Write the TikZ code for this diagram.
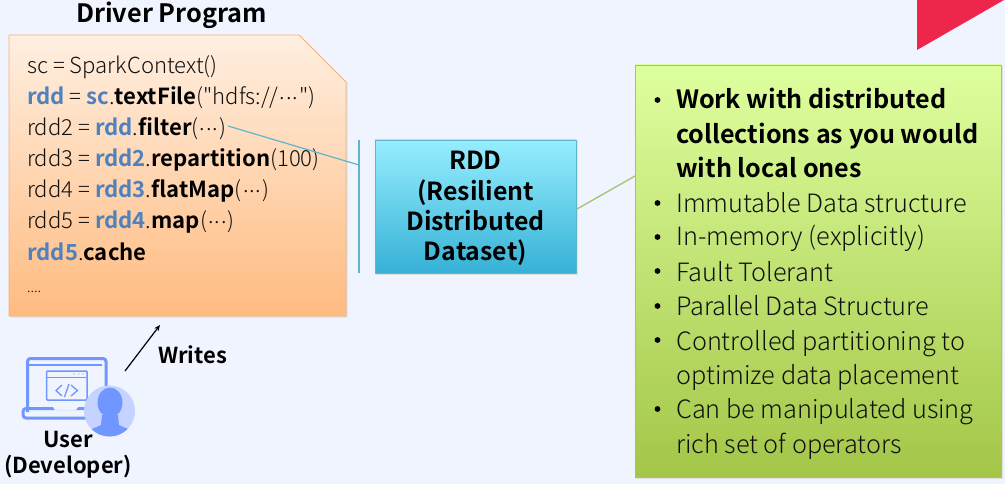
\documentclass[tikz,border=0pt]{standalone}
\usepackage{fontspec}
\setmainfont{Noto Sans CJK KR}[UprightFont=* Light,BoldFont=* Bold]
\newfontfamily\plainquote{Noto Sans CJK KR Light}
\usetikzlibrary{arrows.meta}
\definecolor{pagebg}{HTML}{F0F4FF}
\definecolor{rddblue}{HTML}{4F81BD}
\definecolor{iconblue}{HTML}{7096FF}
\definecolor{iconlight}{HTML}{C4D3FF}
\definecolor{calloutblue}{HTML}{5FB4CE}
\definecolor{calloutgreen}{HTML}{A4C46C}
\definecolor{inktext}{HTML}{111111}
\newcommand{\rb}[1]{\textbf{\textcolor{rddblue}{#1}}}
\newcommand{\kb}[1]{\textbf{\textcolor{black}{#1}}}
\newcommand{\dts}{\hspace{0.06em}\raisebox{0.27em}{.}\hspace{0.04em}\raisebox{0.27em}{.}\hspace{0.04em}\raisebox{0.27em}{.}\hspace{0.06em}}
\tikzset{
  x=1pt,y=-1pt,
  codeline/.style={anchor=base west,inner sep=0pt,font=\fontsize{22.1}{22.1}\selectfont,text=inktext},
  bulletline/.style={anchor=base west,inner sep=0pt,font=\fontsize{25.25}{25.25}\selectfont,text=inktext},
  boldline/.style={anchor=base west,inner sep=0pt,font=\fontsize{25.15}{25.15}\selectfont\bfseries,text=black},
  titletext/.style={anchor=base,inner sep=0pt,font=\fontsize{25.3}{25.3}\selectfont\bfseries,text=black},
  rddtext/.style={anchor=base,inner sep=0pt,font=\fontsize{24.9}{24.9}\selectfont\bfseries,text=black},
  smalltitle/.style={anchor=base,inner sep=0pt,font=\fontsize{22}{22}\selectfont\bfseries,text=black},
  dotmark/.style={circle,fill=black,inner sep=0pt,minimum size=5.8pt},
}
\begin{document}
\begin{tikzpicture}
\useasboundingbox (0,0) rectangle (1005,484);
\fill[pagebg] (0,0) rectangle (1005,484);
\fill[fill={rgb,255:red,238;green,38;blue,75}] (917,0) -- (1004,0) -- (917,50) -- cycle;

% driver box
\fill[black!12] (10.5,37) -- (300,37) -- (347.5,83) -- (347.5,317.5) -- (10.5,317.5) -- cycle;
\shade[top color={rgb,255:red,255;green,239;blue,225},bottom color={rgb,255:red,255;green,187;blue,128},draw={rgb,255:red,244;green,177;blue,120},line width=0.8pt]
  (9,35) -- (299,35) -- (346,82) -- (346,316) -- (9,316) -- cycle;
\node[titletext] (driver) at (171.5,23) {Driver Program};
\node[codeline] (l1) at (27,73.5) {sc = SparkContext()};
\node[codeline] (l2) at (27,105) {\rb{rdd} = \rb{sc}.\kb{textFile}({\plainquote"}hdfs://\dts{\plainquote"})};
\node[codeline] (l3) at (27,136) {rdd2 = \rb{rdd}.\kb{filter}(\dts)};
\node[codeline] (l4) at (27,167) {rdd3 = \rb{rdd2}.\kb{repartition}(100)};
\node[codeline] (l5) at (27,198) {rdd4 = \rb{rdd3}.\kb{flatMap}(\dts)};
\node[codeline] (l6) at (27,229) {rdd5 = \rb{rdd4}.\kb{map}(\dts)};
\node[codeline] (l7) at (27,260) {\rb{rdd5}.\kb{cache}};
\node[codeline,font=\fontsize{14}{14}\selectfont] (l8) at (27,292) {....};

% rdd box
\fill[black!12] (376,141.5) rectangle (577.5,274.5);
\shade[top color={rgb,255:red,150;green,238;blue,255},bottom color={rgb,255:red,54;green,177;blue,214},draw=calloutblue,line width=0.8pt]
  (375,140) rectangle (576,273);
\node[rddtext] (r1) at (475.5,170) {RDD};
\node[rddtext] (r2) at (475.5,200.5) {(Resilient};
\node[rddtext] (r3) at (475.5,230.5) {Distributed};
\node[rddtext] (r4) at (475.5,261) {Dataset)};
\coordinate (calloutTop) at (359,140);
\coordinate (calloutBot) at (359,273);
\coordinate (calloutKnee) at (359,165);
\coordinate (calloutTip) at (228,126);
\draw[calloutblue,line width=1.3pt] (calloutTop) -- (calloutBot);
\draw[calloutblue,line width=1.2pt] (calloutKnee) -- (calloutTip);

% green box
\fill[black!12] (636,66.5) rectangle (1002.5,478.5);
\shade[top color={rgb,255:red,222;green,255;blue,158},bottom color={rgb,255:red,163;green,198;blue,72},draw=calloutgreen,line width=0.8pt]
  (635,65) rectangle (1001,477);
\coordinate (greenEdge) at (635,176);
\coordinate (rddEdge) at (577,209);
\draw[calloutgreen,line width=1.3pt] (rddEdge) -- (greenEdge);

\node[dotmark] (d1) at (657.5,100) {};
\node[dotmark] (d2) at (657.5,203) {};
\node[dotmark] (d3) at (657.5,237) {};
\node[dotmark] (d4) at (657.5,271) {};
\node[dotmark] (d5) at (657.5,306) {};
\node[dotmark] (d6) at (657.5,340) {};
\node[dotmark] (d7) at (657.5,409) {};
\node[boldline] (b1) at (676,109) {Work with distributed};
\node[boldline] (b1b) at (676,143.5) {collections as you would};
\node[boldline] (b1c) at (676,177.5) {with local ones};
\node[bulletline] (b2) at (676,212) {Immutable Data structure};
\node[bulletline] (b3) at (676,246) {In-memory (explicitly)};
\node[bulletline] (b4) at (676,281) {Fault Tolerant};
\node[bulletline] (b5) at (676,315) {Parallel Data Structure};
\node[bulletline] (b6) at (676,350) {Controlled partitioning to};
\node[bulletline] (b6b) at (676,384) {optimize data placement};
\node[bulletline] (b7) at (676,418) {Can be manipulated using};
\node[bulletline] (b7b) at (676,453) {rich set of operators};

% icon
\draw[iconblue,line width=3pt,rounded corners=3pt] (27.5,412) -- (27.5,358.5) -- (106,358.5) -- (106,412);
\draw[iconblue,line width=2pt] (28,364.5) -- (102,364.5);
\draw[iconblue,line width=3pt,rounded corners=3pt] (23,408.5) rectangle (108,418);
\fill[pagebg] (52,405.5) -- (79,405.5) -- (76,410) -- (55,410) -- cycle;
\draw[iconblue,line width=1.5pt,rounded corners=1pt] (46.5,371) rectangle (87,400);
\draw[iconblue,line width=1.2pt] (47,377.5) -- (86.5,377.5);
\draw[iconblue,line width=1.3pt] (62,385) -- (56,390.5) -- (62,396);
\draw[iconblue,line width=1.3pt] (71,385) -- (77.5,390.5) -- (71,396);
\draw[iconblue,line width=1.3pt] (69,384) -- (64.5,397);
\fill[iconblue] (74,374) circle (0.7) (79,374) circle (0.7) (83,374) circle (0.7);
\fill[iconlight] (109.5,411) circle (25.5);
\begin{scope}
\clip (109.5,411) circle (25.5);
\fill[iconblue] (110,402.5) ellipse (12.5 and 15);
\fill[iconblue] (102,415) -- (118,415) -- (119,425) .. controls (125,428) and (132,430) .. (137,434) -- (137,440) -- (83,440) -- (83,434) .. controls (88,430) and (95,428) .. (101,425) -- cycle;
\end{scope}

\coordinate (arrowFrom) at (125,371);
\coordinate (arrowTo) at (160,325);
\draw[black,line width=1.2pt,-{Stealth[length=6pt,width=5pt]}] (arrowFrom) -- (arrowTo);
\node[smalltitle] (writes) at (192.5,363) {Writes};
\node[smalltitle] (user) at (68,447) {User};
\node[smalltitle] (dev) at (68,473) {(Developer)};
\end{tikzpicture}
\end{document}
